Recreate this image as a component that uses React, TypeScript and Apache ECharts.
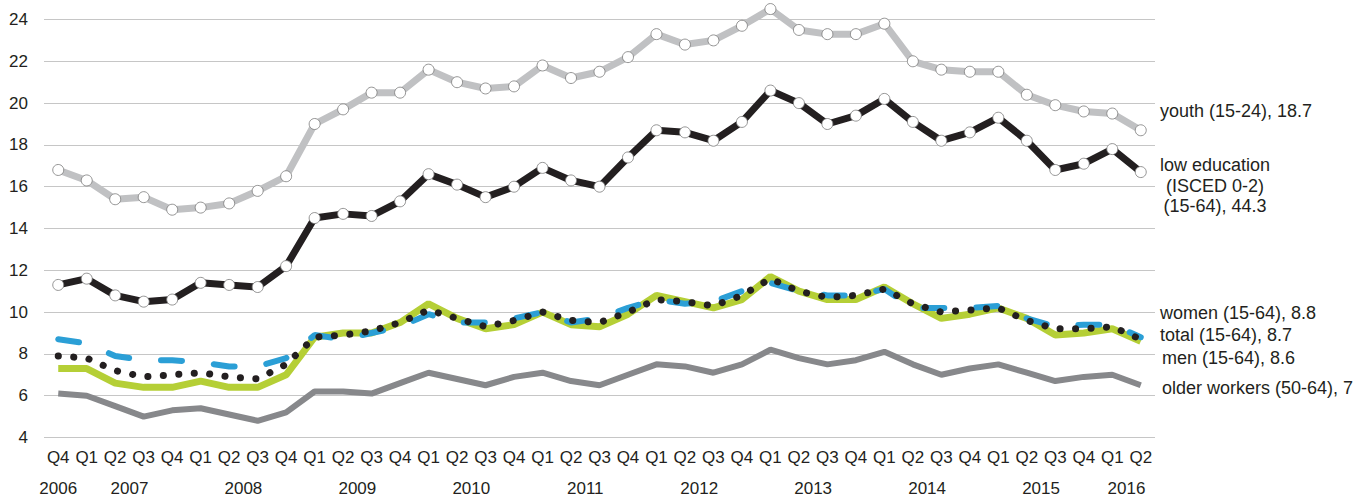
import React, { useEffect, useRef } from "react";
import * as echarts from "echarts";

const categories = [
  "2006 Q4",
  "2007 Q1", "2007 Q2", "2007 Q3", "2007 Q4",
  "2008 Q1", "2008 Q2", "2008 Q3", "2008 Q4",
  "2009 Q1", "2009 Q2", "2009 Q3", "2009 Q4",
  "2010 Q1", "2010 Q2", "2010 Q3", "2010 Q4",
  "2011 Q1", "2011 Q2", "2011 Q3", "2011 Q4",
  "2012 Q1", "2012 Q2", "2012 Q3", "2012 Q4",
  "2013 Q1", "2013 Q2", "2013 Q3", "2013 Q4",
  "2014 Q1", "2014 Q2", "2014 Q3", "2014 Q4",
  "2015 Q1", "2015 Q2", "2015 Q3", "2015 Q4",
  "2016 Q1", "2016 Q2",
];

const yearLabels = ["2006", "2007", "2008", "2009", "2010", "2011", "2012", "2013", "2014", "2015", "2016"];
// category-index position of the centre of each year's quarters
const yearCenters = [0, 2.5, 6.5, 10.5, 14.5, 18.5, 22.5, 26.5, 30.5, 34.5, 37.5];

const youth = [16.8, 16.3, 15.4, 15.5, 14.9, 15.0, 15.2, 15.8, 16.5, 19.0, 19.7, 20.5, 20.5, 21.6, 21.0, 20.7, 20.8, 21.8, 21.2, 21.5, 22.2, 23.3, 22.8, 23.0, 23.7, 24.5, 23.5, 23.3, 23.3, 23.8, 22.0, 21.6, 21.5, 21.5, 20.4, 19.9, 19.6, 19.5, 18.7];
const lowEducation = [11.3, 11.6, 10.8, 10.5, 10.6, 11.4, 11.3, 11.2, 12.2, 14.5, 14.7, 14.6, 15.3, 16.6, 16.1, 15.5, 16.0, 16.9, 16.3, 16.0, 17.4, 18.7, 18.6, 18.2, 19.1, 20.6, 20.0, 19.0, 19.4, 20.2, 19.1, 18.2, 18.6, 19.3, 18.2, 16.8, 17.1, 17.8, 16.7];
const olderWorkers = [6.1, 6.0, 5.5, 5.0, 5.3, 5.4, 5.1, 4.8, 5.2, 6.2, 6.2, 6.1, 6.6, 7.1, 6.8, 6.5, 6.9, 7.1, 6.7, 6.5, 7.0, 7.5, 7.4, 7.1, 7.5, 8.2, 7.8, 7.5, 7.7, 8.1, 7.5, 7.0, 7.3, 7.5, 7.1, 6.7, 6.9, 7.0, 6.5];
const men = [7.3, 7.3, 6.6, 6.4, 6.4, 6.7, 6.4, 6.4, 7.0, 8.8, 9.0, 9.0, 9.5, 10.4, 9.7, 9.2, 9.4, 10.0, 9.4, 9.3, 9.9, 10.8, 10.5, 10.2, 10.6, 11.7, 11.0, 10.6, 10.6, 11.2, 10.4, 9.7, 9.9, 10.2, 9.7, 8.9, 9.0, 9.2, 8.6];
const women = [8.7, 8.5, 7.9, 7.7, 7.7, 7.6, 7.4, 7.4, 7.8, 8.9, 8.7, 9.0, 9.3, 9.9, 9.5, 9.5, 9.7, 10.0, 9.5, 9.7, 10.2, 10.6, 10.4, 10.5, 11.0, 11.4, 11.0, 10.8, 10.8, 11.1, 10.2, 10.2, 10.2, 10.3, 9.7, 9.3, 9.4, 9.4, 8.8];
const total = [7.9, 7.8, 7.2, 6.9, 7.0, 7.1, 6.9, 6.8, 7.5, 8.8, 8.9, 9.1, 9.5, 10.1, 9.7, 9.3, 9.6, 10.0, 9.6, 9.5, 10.0, 10.6, 10.5, 10.3, 10.8, 11.6, 11.0, 10.7, 10.8, 11.1, 10.4, 10.0, 10.1, 10.2, 9.6, 9.2, 9.2, 9.3, 8.7];

const FONT = "'Liberation Sans', Arial, Helvetica, sans-serif";
const TEXT = "#231f20";
const TICK_SIZE = 17;
const LABEL_SIZE = 18;

export default function App() {
  const ref = useRef<HTMLDivElement>(null);

  useEffect(() => {
    document.body.style.margin = "0";
    if (!ref.current) return;
    const chart = echarts.init(ref.current, undefined, { renderer: "svg" });

    const marker = {
      symbol: "circle",
      symbolSize: 11,
      showSymbol: true,
      itemStyle: { color: "#ffffff", borderColor: "#7a7a7a", borderWidth: 0.8 },
    };

    const labelStyle = (text: string) => ({
      text,
      fontSize: LABEL_SIZE,
      fontFamily: FONT,
      fill: TEXT,
      align: "left",
      verticalAlign: "middle",
    });

    chart.setOption({
      animation: false,
      backgroundColor: "#ffffff",
      textStyle: { fontFamily: FONT },
      grid: { left: 44, right: 213, top: 19.5, bottom: 61.5, containLabel: false },
      xAxis: [
        {
          type: "category",
          data: categories,
          boundaryGap: true,
          axisLine: { show: false },
          axisTick: { show: false },
          splitLine: { show: false },
          axisLabel: {
            interval: 0,
            margin: 11,
            fontSize: TICK_SIZE,
            fontFamily: FONT,
            color: TEXT,
            formatter: (v: string) => v.split(" ")[1],
          },
        },
        {
          type: "value",
          position: "bottom",
          offset: 31,
          min: -0.5,
          max: 38.5,
          interval: 0.5,
          axisLine: { show: false },
          axisTick: { show: false },
          splitLine: { show: false },
          axisLabel: {
            margin: 11,
            fontSize: TICK_SIZE,
            fontFamily: FONT,
            color: TEXT,
            showMinLabel: true,
            showMaxLabel: true,
            formatter: (v: number) => {
              const i = yearCenters.findIndex((p) => Math.abs(p - v) < 0.01);
              return i >= 0 ? yearLabels[i] : "";
            },
          },
        },
      ],
      yAxis: {
        type: "value",
        min: 4,
        max: 24,
        interval: 2,
        axisLine: { show: false },
        axisTick: { show: false },
        axisLabel: { fontSize: TICK_SIZE, fontFamily: FONT, color: TEXT, margin: 16 },
        splitLine: { lineStyle: { color: "#c6c6c6", width: 1 } },
      },
      series: [
        {
          name: "older workers (50-64)",
          type: "line",
          data: olderWorkers,
          showSymbol: false,
          clip: false,
          lineStyle: { color: "#87888b", width: 6 },
          z: 2,
        },
        {
          name: "youth (15-24)",
          type: "line",
          data: youth,
          ...marker,
          clip: false,
          lineStyle: { color: "#c0c1c3", width: 7 },
          z: 3,
        },
        {
          name: "low education",
          type: "line",
          data: lowEducation,
          ...marker,
          clip: false,
          lineStyle: { color: "#231f20", width: 7 },
          z: 3,
        },
        {
          name: "men (15-64)",
          type: "line",
          data: men,
          showSymbol: false,
          clip: false,
          lineStyle: { color: "#b5cf36", width: 7 },
          z: 4,
        },
        {
          name: "women (15-64)",
          type: "line",
          data: women,
          showSymbol: false,
          clip: false,
          lineStyle: { color: "#2b9fd6", width: 6, type: [21, 32], cap: "round" },
          z: 5,
        },
        {
          name: "total (15-64)",
          type: "line",
          data: total,
          showSymbol: false,
          clip: false,
          lineStyle: { color: "#231f20", width: 7, type: [0.1, 15.4], cap: "round" },
          z: 6,
        },
      ],
      graphic: [
        { type: "text", x: 1160, y: 111, style: labelStyle("youth (15-24), 18.7") },
        {
          type: "text",
          x: 1215,
          y: 185.5,
          style: { ...labelStyle("low education\n(ISCED 0-2)\n(15-64), 44.3"), lineHeight: 20.5, align: "center" },
        },
        { type: "text", x: 1160, y: 312.5, style: labelStyle("women (15-64), 8.8") },
        { type: "text", x: 1160, y: 334.5, style: labelStyle("total (15-64), 8.7") },
        { type: "text", x: 1162, y: 357.5, style: labelStyle("men (15-64), 8.6") },
        { type: "text", x: 1162, y: 387.5, style: labelStyle("older workers (50-64), 7") },
      ],
    });

    return () => chart.dispose();
  }, []);

  return <div ref={ref} style={{ width: 1368, height: 499, position: "absolute", left: 0, top: 0 }} />;
}
